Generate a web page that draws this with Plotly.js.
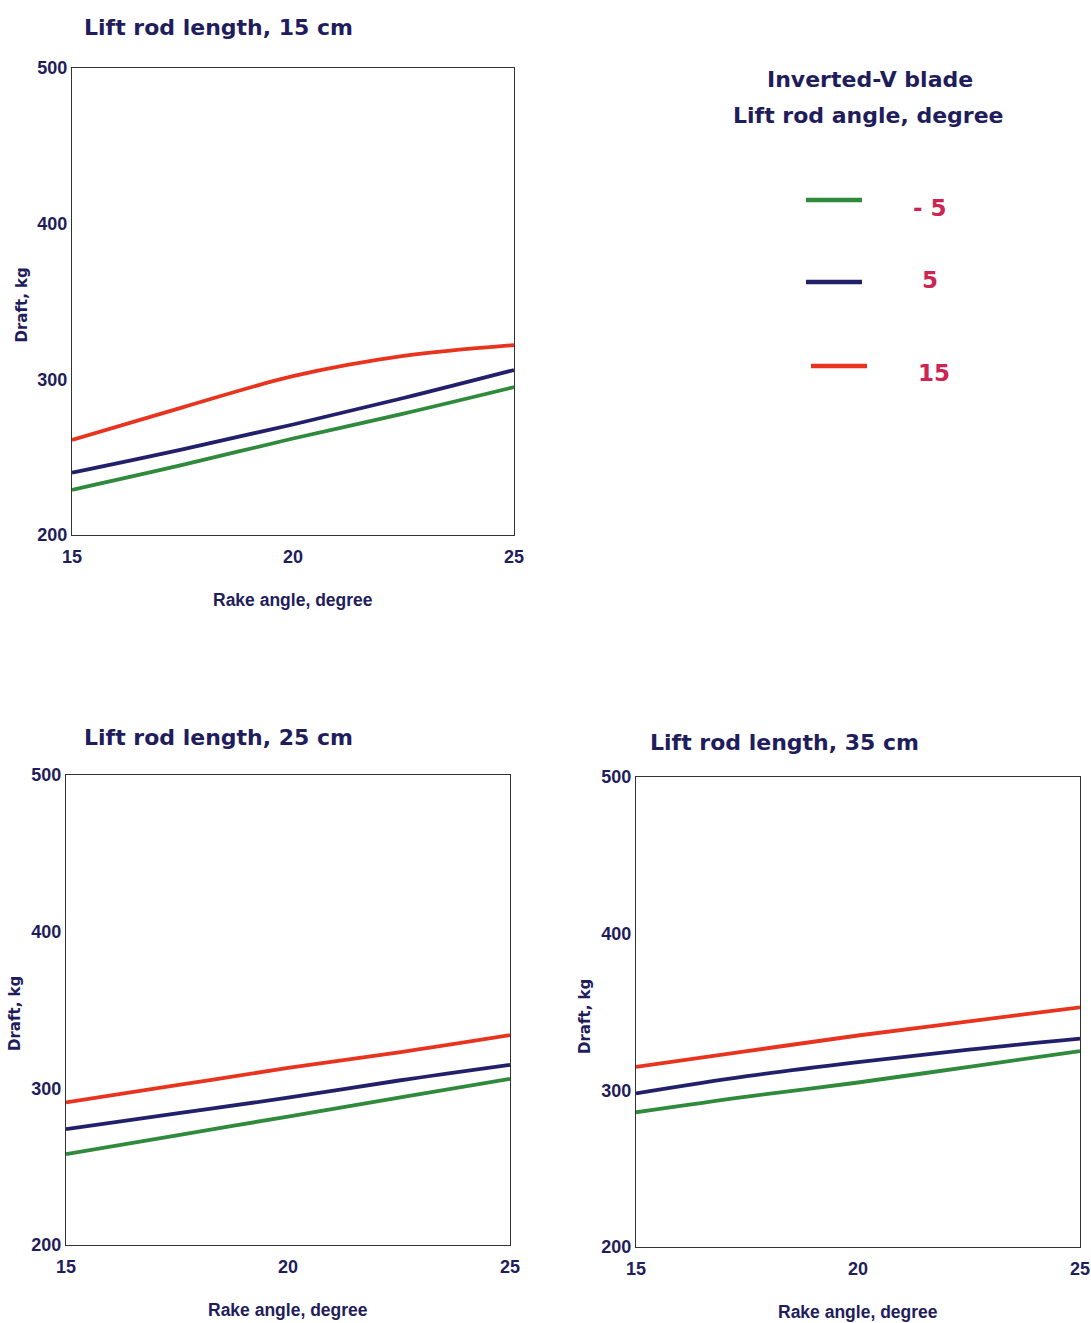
<!DOCTYPE html>
<html>
<head>
<meta charset="utf-8">
<script src="https://cdn.plot.ly/plotly-3.0.1.min.js"></script>
<style>html,body{margin:0;padding:0;background:#fff;}#chart{width:1091px;height:1323px;}</style>
</head>
<body>
<div id="chart"></div>
<script>
// Rake angle, degree
const rakeAngle = [15, 17.5, 20, 22.5, 25];

// Lift rod length 15 cm
const len15_m5 = [229, 245, 262, 278, 295];
const len15_p5 = [240, 255, 271, 288, 306];
const len15_p15 = [261, 282, 302, 315, 322];

// Lift rod length 25 cm
const len25_m5 = [258, 270, 282, 294, 306];
const len25_p5 = [274, 284, 294, 305, 315];
const len25_p15 = [291, 302, 313, 323, 334];

// Lift rod length 35 cm
const len35_m5 = [286, 296, 305, 315, 325];
const len35_p5 = [298, 309, 318, 326, 333];
const len35_p15 = [315, 325, 335, 344, 353];

const seriesNames = ['- 5', '5', '15'];
const seriesColors = ['#2f8a3c', '#23206b', '#e8331f'];
const panelTitles = ['Lift rod length, 15 cm', 'Lift rod length, 25 cm', 'Lift rod length, 35 cm'];
const xTicks = [15, 20, 25];
const yTicks = [200, 300, 400, 500];

const navy = '#1f1d5c';
const panels = [
  {data: [len15_m5, len15_p5, len15_p15], xa: 'x', ya: 'y'},
  {data: [len25_m5, len25_p5, len25_p15], xa: 'x2', ya: 'y2'},
  {data: [len35_m5, len35_p5, len35_p15], xa: 'x3', ya: 'y3'}
];

const traces = [];
panels.forEach(p => {
  p.data.forEach((vals, i) => {
    traces.push({
      x: rakeAngle, y: vals, type: 'scatter', mode: 'lines',
      name: seriesNames[i], xaxis: p.xa, yaxis: p.ya,
      line: {color: seriesColors[i], width: 3.8, shape: 'spline', smoothing: 1},
      showlegend: false, hoverinfo: 'skip'
    });
  });
});

const W = 1091, H = 1323;
const px = v => v / W;
const py = v => 1 - v / H;

const tickFont = {family: 'Liberation Sans, Arial, sans-serif', size: 18, color: navy, weight: 'bold'};

function xAxis(l, r, anchor) {
  return {domain: [px(l), px(r)], range: [15, 25], anchor: anchor,
    tickvals: xTicks, ticktext: xTicks.map(String), ticks: '', showgrid: false, zeroline: false,
    showline: true, mirror: true, linecolor: '#333', linewidth: 1.2, ticklabelstandoff: 5,
    tickfont: tickFont, fixedrange: true};
}
function yAxis(t, b, anchor) {
  return {domain: [py(b), py(t)], range: [200, 500], anchor: anchor,
    tickvals: yTicks, ticktext: yTicks.map(String), ticks: '', showgrid: false, zeroline: false,
    showline: true, mirror: true, linecolor: '#333', linewidth: 1.2,
    tickfont: tickFont, fixedrange: true};
}

const titleFont = {family: 'DejaVu Sans, Verdana, sans-serif', size: 22, color: navy, weight: 'bold'};
const axFont = {family: 'Liberation Sans, Arial, sans-serif', size: 17.5, color: navy, weight: 'bold'};
const draftFont = {family: 'DejaVu Sans, Verdana, sans-serif', size: 15, color: navy, weight: 'bold'};
const labFont = {family: 'DejaVu Sans, Verdana, sans-serif', size: 23, color: '#cc2453', weight: 'bold'};

const boxes = [
  {l: 72, r: 514, t: 68, b: 535, title: panelTitles[0], tx: 82, ty: 27},
  {l: 66, r: 510, t: 775, b: 1245, title: panelTitles[1], tx: 82, ty: 737},
  {l: 636, r: 1080, t: 777, b: 1247, title: panelTitles[2], tx: 648, ty: 742}
];

const annotations = [];
boxes.forEach(bx => {
  annotations.push({xref: 'paper', yref: 'paper', x: px(bx.tx), y: py(bx.ty), xanchor: 'left', yanchor: 'middle',
    text: bx.title, showarrow: false, font: titleFont});
  annotations.push({xref: 'paper', yref: 'paper', x: px((bx.l + bx.r) / 2), y: py(bx.b + 65), xanchor: 'center', yanchor: 'middle',
    text: 'Rake angle, degree', showarrow: false, font: axFont});
  annotations.push({xref: 'paper', yref: 'paper', x: px(bx.l - 51), y: py((bx.t + bx.b) / 2 + 4), xanchor: 'center', yanchor: 'middle',
    text: 'Draft, kg', textangle: -90, showarrow: false, font: draftFont});
});

// Legend block
annotations.push({xref: 'paper', yref: 'paper', x: px(870), y: py(79), xanchor: 'center', yanchor: 'middle',
  text: 'Inverted-V blade', showarrow: false, font: titleFont});
annotations.push({xref: 'paper', yref: 'paper', x: px(869), y: py(115), xanchor: 'center', yanchor: 'middle',
  text: 'Lift rod angle, degree', showarrow: false, font: titleFont});

const legendRows = [
  {x0: 806, x1: 862, y: 200, tx: 930, ty: 208},
  {x0: 806, x1: 862, y: 282, tx: 930, ty: 280},
  {x0: 811, x1: 867, y: 366, tx: 934, ty: 373}
];
const shapes = [];
legendRows.forEach((r, i) => {
  shapes.push({type: 'line', xref: 'paper', yref: 'paper', x0: px(r.x0), x1: px(r.x1), y0: py(r.y), y1: py(r.y),
    line: {color: seriesColors[i], width: 4.5}});
  annotations.push({xref: 'paper', yref: 'paper', x: px(r.tx), y: py(r.ty), xanchor: 'center', yanchor: 'middle',
    text: seriesNames[i], showarrow: false, font: labFont});
});

const layout = {
  width: W, height: H,
  margin: {l: 0, r: 0, t: 0, b: 0},
  paper_bgcolor: '#fff', plot_bgcolor: '#fff',
  showlegend: false,
  xaxis: xAxis(boxes[0].l, boxes[0].r, 'y'),
  yaxis: yAxis(boxes[0].t, boxes[0].b, 'x'),
  xaxis2: xAxis(boxes[1].l, boxes[1].r, 'y2'),
  yaxis2: yAxis(boxes[1].t, boxes[1].b, 'x2'),
  xaxis3: xAxis(boxes[2].l, boxes[2].r, 'y3'),
  yaxis3: yAxis(boxes[2].t, boxes[2].b, 'x3'),
  annotations: annotations,
  shapes: shapes
};

Plotly.newPlot('chart', traces, layout, {displayModeBar: false, staticPlot: true});
</script>
</body>
</html>
